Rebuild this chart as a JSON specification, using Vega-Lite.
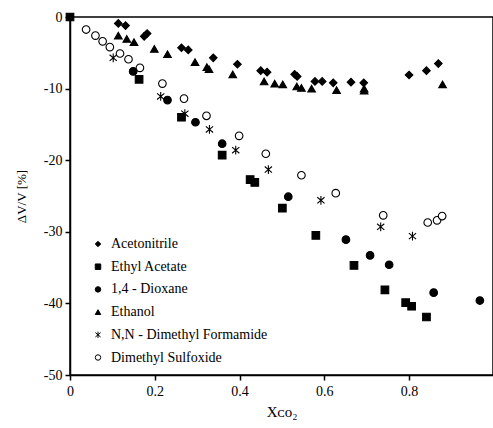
{
  "$schema": "https://vega.github.io/schema/vega-lite/v6.json",
  "width": 423,
  "height": 358,
  "autosize": {"type": "none"},
  "padding": {"left": 70, "top": 17, "right": 0, "bottom": 53},
  "config": {
    "font": "Liberation Serif",
    "view": {"stroke": "black", "strokeWidth": 1.5},
    "axis": {
      "grid": false,
      "domainColor": "black",
      "domainWidth": 1.5,
      "tickColor": "black",
      "tickWidth": 1.5,
      "tickSize": 5,
      "labelFlush": false,
      "labelFont": "Liberation Serif",
      "labelFontSize": 14,
      "labelColor": "black",
      "titleFont": "Liberation Serif",
      "titleFontWeight": "normal",
      "titleColor": "black"
    },
    "legend": {
      "orient": "none",
      "legendX": 21,
      "legendY": 220,
      "labelFont": "Liberation Serif",
      "labelFontSize": 14,
      "labelColor": "black",
      "symbolSize": 30,
      "symbolStrokeWidth": 1,
      "rowPadding": 8.7,
      "labelOffset": 6,
      "padding": 0
    }
  },
  "datasets": {
    "swelling": [
      {"solvent": "Acetonitrile", "x": 0.114, "y": -0.9},
      {"solvent": "Acetonitrile", "x": 0.131, "y": -1.2},
      {"solvent": "Acetonitrile", "x": 0.175, "y": -2.7},
      {"solvent": "Acetonitrile", "x": 0.182, "y": -2.3},
      {"solvent": "Acetonitrile", "x": 0.263, "y": -4.3},
      {"solvent": "Acetonitrile", "x": 0.279, "y": -4.6},
      {"solvent": "Acetonitrile", "x": 0.338, "y": -5.7},
      {"solvent": "Acetonitrile", "x": 0.395, "y": -6.6},
      {"solvent": "Acetonitrile", "x": 0.45, "y": -7.5},
      {"solvent": "Acetonitrile", "x": 0.465, "y": -7.7},
      {"solvent": "Acetonitrile", "x": 0.53, "y": -8.0},
      {"solvent": "Acetonitrile", "x": 0.536, "y": -8.3},
      {"solvent": "Acetonitrile", "x": 0.578, "y": -9.0},
      {"solvent": "Acetonitrile", "x": 0.595, "y": -9.0},
      {"solvent": "Acetonitrile", "x": 0.621, "y": -9.2},
      {"solvent": "Acetonitrile", "x": 0.663, "y": -9.1},
      {"solvent": "Acetonitrile", "x": 0.693, "y": -9.2},
      {"solvent": "Acetonitrile", "x": 0.8, "y": -8.1},
      {"solvent": "Acetonitrile", "x": 0.841, "y": -7.5},
      {"solvent": "Acetonitrile", "x": 0.869, "y": -6.5},
      {"solvent": "Ethanol", "x": 0.114, "y": -2.6},
      {"solvent": "Ethanol", "x": 0.134, "y": -3.05},
      {"solvent": "Ethanol", "x": 0.151, "y": -3.5},
      {"solvent": "Ethanol", "x": 0.199, "y": -4.45},
      {"solvent": "Ethanol", "x": 0.23, "y": -5.2},
      {"solvent": "Ethanol", "x": 0.295, "y": -6.3},
      {"solvent": "Ethanol", "x": 0.323, "y": -7.0},
      {"solvent": "Ethanol", "x": 0.328, "y": -7.3},
      {"solvent": "Ethanol", "x": 0.384, "y": -8.0},
      {"solvent": "Ethanol", "x": 0.458, "y": -9.0},
      {"solvent": "Ethanol", "x": 0.483, "y": -9.3},
      {"solvent": "Ethanol", "x": 0.502, "y": -9.4},
      {"solvent": "Ethanol", "x": 0.535, "y": -9.7},
      {"solvent": "Ethanol", "x": 0.546, "y": -9.9},
      {"solvent": "Ethanol", "x": 0.57, "y": -10.0},
      {"solvent": "Ethanol", "x": 0.629, "y": -10.2},
      {"solvent": "Ethanol", "x": 0.694, "y": -10.0},
      {"solvent": "Ethanol", "x": 0.694, "y": -10.3},
      {"solvent": "Ethanol", "x": 0.879, "y": -9.4},
      {"solvent": "N,N - Dimethyl Formamide", "x": 0.102, "y": -5.7},
      {"solvent": "N,N - Dimethyl Formamide", "x": 0.214, "y": -11.1},
      {"solvent": "N,N - Dimethyl Formamide", "x": 0.271, "y": -13.5},
      {"solvent": "N,N - Dimethyl Formamide", "x": 0.329, "y": -15.7},
      {"solvent": "N,N - Dimethyl Formamide", "x": 0.391, "y": -18.6},
      {"solvent": "N,N - Dimethyl Formamide", "x": 0.468, "y": -21.3},
      {"solvent": "N,N - Dimethyl Formamide", "x": 0.592, "y": -25.6},
      {"solvent": "N,N - Dimethyl Formamide", "x": 0.733, "y": -29.3},
      {"solvent": "N,N - Dimethyl Formamide", "x": 0.808, "y": -30.6},
      {"solvent": "Dimethyl Sulfoxide", "x": 0.038, "y": -1.75},
      {"solvent": "Dimethyl Sulfoxide", "x": 0.06, "y": -2.6},
      {"solvent": "Dimethyl Sulfoxide", "x": 0.077, "y": -3.4},
      {"solvent": "Dimethyl Sulfoxide", "x": 0.094, "y": -4.2},
      {"solvent": "Dimethyl Sulfoxide", "x": 0.118, "y": -5.1},
      {"solvent": "Dimethyl Sulfoxide", "x": 0.138, "y": -5.9},
      {"solvent": "Dimethyl Sulfoxide", "x": 0.165, "y": -7.1},
      {"solvent": "Dimethyl Sulfoxide", "x": 0.218, "y": -9.3},
      {"solvent": "Dimethyl Sulfoxide", "x": 0.269, "y": -11.4},
      {"solvent": "Dimethyl Sulfoxide", "x": 0.322, "y": -13.8},
      {"solvent": "Dimethyl Sulfoxide", "x": 0.399, "y": -16.6},
      {"solvent": "Dimethyl Sulfoxide", "x": 0.462, "y": -19.1},
      {"solvent": "Dimethyl Sulfoxide", "x": 0.546, "y": -22.1},
      {"solvent": "Dimethyl Sulfoxide", "x": 0.627, "y": -24.6},
      {"solvent": "Dimethyl Sulfoxide", "x": 0.739, "y": -27.7},
      {"solvent": "Dimethyl Sulfoxide", "x": 0.844, "y": -28.7},
      {"solvent": "Dimethyl Sulfoxide", "x": 0.866, "y": -28.4},
      {"solvent": "Dimethyl Sulfoxide", "x": 0.878, "y": -27.8},
      {"solvent": "1,4 - Dioxane", "x": 0.149, "y": -7.6},
      {"solvent": "1,4 - Dioxane", "x": 0.23, "y": -11.6},
      {"solvent": "1,4 - Dioxane", "x": 0.296, "y": -14.7},
      {"solvent": "1,4 - Dioxane", "x": 0.359, "y": -17.7},
      {"solvent": "1,4 - Dioxane", "x": 0.515, "y": -25.1},
      {"solvent": "1,4 - Dioxane", "x": 0.651, "y": -31.1},
      {"solvent": "1,4 - Dioxane", "x": 0.708, "y": -33.3},
      {"solvent": "1,4 - Dioxane", "x": 0.753, "y": -34.6},
      {"solvent": "1,4 - Dioxane", "x": 0.858, "y": -38.5},
      {"solvent": "1,4 - Dioxane", "x": 0.967, "y": -39.6},
      {"solvent": "Ethyl Acetate", "x": 0.0, "y": 0.0},
      {"solvent": "Ethyl Acetate", "x": 0.163, "y": -8.7},
      {"solvent": "Ethyl Acetate", "x": 0.263, "y": -14.0},
      {"solvent": "Ethyl Acetate", "x": 0.359, "y": -19.3},
      {"solvent": "Ethyl Acetate", "x": 0.425, "y": -22.7},
      {"solvent": "Ethyl Acetate", "x": 0.436, "y": -23.1},
      {"solvent": "Ethyl Acetate", "x": 0.501, "y": -26.7},
      {"solvent": "Ethyl Acetate", "x": 0.58, "y": -30.5},
      {"solvent": "Ethyl Acetate", "x": 0.67, "y": -34.7},
      {"solvent": "Ethyl Acetate", "x": 0.743, "y": -38.1},
      {"solvent": "Ethyl Acetate", "x": 0.792, "y": -39.9},
      {"solvent": "Ethyl Acetate", "x": 0.806, "y": -40.4},
      {"solvent": "Ethyl Acetate", "x": 0.841, "y": -41.9}
    ]
  },
  "data": {"name": "swelling"},
  "mark": {"type": "point", "filled": false, "size": 58, "strokeWidth": 1.1, "opacity": 1, "clip": false},
  "encoding": {
    "x": {
      "field": "x",
      "type": "quantitative",
      "scale": {"domain": [0, 0.998], "nice": false, "zero": false},
      "axis": {
        "values": [0, 0.2, 0.4, 0.6, 0.8],
        "format": "~g",
        "labelPadding": 4,
        "title": "Xᴄᴏ₂",
        "titleFontSize": 15,
        "titlePadding": 6
      }
    },
    "y": {
      "field": "y",
      "type": "quantitative",
      "scale": {"domain": [-50, 0], "nice": false, "zero": false},
      "axis": {
        "values": [-50, -40, -30, -20, -10, 0],
        "labelExpr": "replace(datum.label, '−', '-')",
        "labelPadding": 3,
        "title": "ΔV/V [%]",
        "titleFontSize": 13,
        "titlePadding": 15
      }
    },
    "shape": {
      "field": "solvent",
      "type": "nominal",
      "title": null,
      "scale": {
        "domain": ["Acetonitrile", "Ethyl Acetate", "1,4 - Dioxane", "Ethanol", "N,N - Dimethyl Formamide", "Dimethyl Sulfoxide"],
        "range": ["diamond", "square", "circle", "triangle-up", "M0,-1.15L0,1.15M-0.95,-0.8L0.95,0.8M-0.95,0.8L0.95,-0.8", "circle"]
      }
    },
    "fill": {
      "field": "solvent",
      "type": "nominal",
      "title": null,
      "scale": {
        "domain": ["Acetonitrile", "Ethyl Acetate", "1,4 - Dioxane", "Ethanol", "N,N - Dimethyl Formamide", "Dimethyl Sulfoxide"],
        "range": ["black", "black", "black", "black", "transparent", "white"]
      }
    },
    "stroke": {
      "field": "solvent",
      "type": "nominal",
      "title": null,
      "scale": {
        "domain": ["Acetonitrile", "Ethyl Acetate", "1,4 - Dioxane", "Ethanol", "N,N - Dimethyl Formamide", "Dimethyl Sulfoxide"],
        "range": ["black", "black", "black", "black", "black", "black"]
      }
    }
  }
}
